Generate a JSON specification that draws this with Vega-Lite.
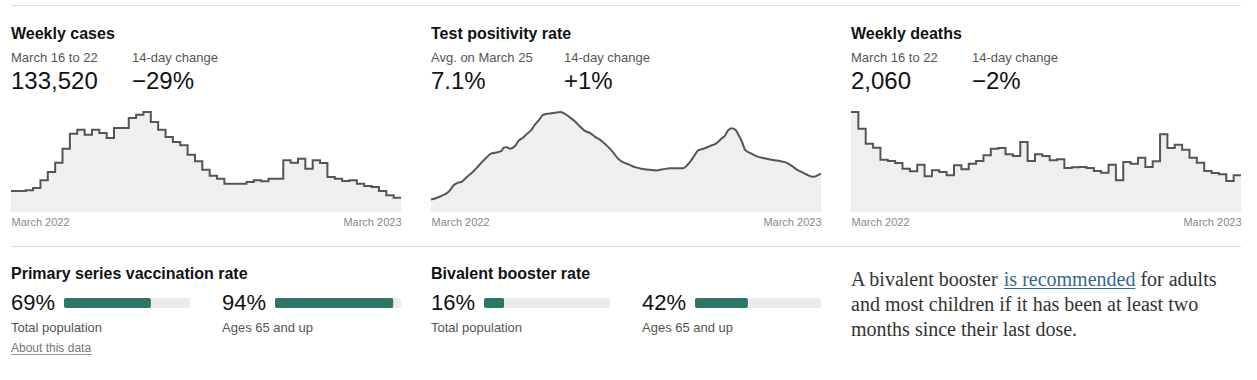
{
  "$schema": "https://vega.github.io/schema/vega-lite/v6.json",
  "padding": {"left": 7, "top": 5, "right": 0, "bottom": 0},
  "background": "white",
  "config": {
    "font": "Liberation Sans",
    "view": {"stroke": null},
    "text": {"baseline": "alphabetic"},
    "axis": {"title": null, "domain": false, "ticks": false, "grid": false, "labelFontSize": 11, "labelColor": "#888", "labelPadding": 4, "labelFlush": true, "format": "%B %Y"}
  },
  "datasets": {
    "headers": [
      {"panel": "cases", "title": "Weekly cases", "periodLabel": "March 16 to 22", "periodValue": "133,520", "changeLabel": "14-day change", "changeValue": "−29%"},
      {"panel": "positivity", "title": "Test positivity rate", "periodLabel": "Avg. on March 25", "periodValue": "7.1%", "changeLabel": "14-day change", "changeValue": "+1%"},
      {"panel": "deaths", "title": "Weekly deaths", "periodLabel": "March 16 to 22", "periodValue": "2,060", "changeLabel": "14-day change", "changeValue": "−2%"}
    ],
    "weekly": [
      {"date": "2022-03-17", "cases": 195600, "deaths": 5618},
      {"date": "2022-03-24", "cases": 195600, "deaths": 4682},
      {"date": "2022-03-31", "cases": 201800, "deaths": 3839},
      {"date": "2022-04-07", "cases": 223600, "deaths": 3614},
      {"date": "2022-04-14", "cases": 295000, "deaths": 2940},
      {"date": "2022-04-21", "cases": 372600, "deaths": 2865},
      {"date": "2022-04-28", "cases": 459500, "deaths": 2753},
      {"date": "2022-05-05", "cases": 590000, "deaths": 2435},
      {"date": "2022-05-12", "cases": 729700, "deaths": 2285},
      {"date": "2022-05-19", "cases": 767000, "deaths": 2659},
      {"date": "2022-05-26", "cases": 720000, "deaths": 2004},
      {"date": "2022-06-02", "cases": 767000, "deaths": 2341},
      {"date": "2022-06-09", "cases": 736000, "deaths": 2247},
      {"date": "2022-06-16", "cases": 689000, "deaths": 2060},
      {"date": "2022-06-23", "cases": 782000, "deaths": 2622},
      {"date": "2022-06-30", "cases": 782000, "deaths": 2397},
      {"date": "2022-07-07", "cases": 875600, "deaths": 2715},
      {"date": "2022-07-14", "cases": 906700, "deaths": 2865},
      {"date": "2022-07-21", "cases": 931500, "deaths": 3184},
      {"date": "2022-07-28", "cases": 838000, "deaths": 3558},
      {"date": "2022-08-04", "cases": 767000, "deaths": 3596},
      {"date": "2022-08-11", "cases": 698600, "deaths": 3240},
      {"date": "2022-08-18", "cases": 652000, "deaths": 3146},
      {"date": "2022-08-25", "cases": 621000, "deaths": 3933},
      {"date": "2022-09-01", "cases": 534000, "deaths": 2865},
      {"date": "2022-09-08", "cases": 472000, "deaths": 3240},
      {"date": "2022-09-15", "cases": 394000, "deaths": 3146},
      {"date": "2022-09-22", "cases": 338000, "deaths": 2903},
      {"date": "2022-09-29", "cases": 310500, "deaths": 2959},
      {"date": "2022-10-06", "cases": 264000, "deaths": 2472},
      {"date": "2022-10-13", "cases": 264000, "deaths": 2509},
      {"date": "2022-10-20", "cases": 264000, "deaths": 2528},
      {"date": "2022-10-27", "cases": 279500, "deaths": 2472},
      {"date": "2022-11-03", "cases": 295000, "deaths": 2303},
      {"date": "2022-11-10", "cases": 285700, "deaths": 2210},
      {"date": "2022-11-17", "cases": 310500, "deaths": 2659},
      {"date": "2022-11-24", "cases": 310500, "deaths": 1779},
      {"date": "2022-12-01", "cases": 481000, "deaths": 2809},
      {"date": "2022-12-08", "cases": 459500, "deaths": 2715},
      {"date": "2022-12-15", "cases": 497000, "deaths": 3053},
      {"date": "2022-12-22", "cases": 403700, "deaths": 2528},
      {"date": "2022-12-29", "cases": 481000, "deaths": 2847},
      {"date": "2023-01-05", "cases": 456400, "deaths": 4364},
      {"date": "2023-01-12", "cases": 326000, "deaths": 3596},
      {"date": "2023-01-19", "cases": 310500, "deaths": 3783},
      {"date": "2023-01-26", "cases": 288800, "deaths": 3502},
      {"date": "2023-02-02", "cases": 295000, "deaths": 3053},
      {"date": "2023-02-09", "cases": 264000, "deaths": 2772},
      {"date": "2023-02-16", "cases": 242000, "deaths": 2303},
      {"date": "2023-02-23", "cases": 233000, "deaths": 2191},
      {"date": "2023-03-02", "cases": 195600, "deaths": 2116},
      {"date": "2023-03-09", "cases": 155000, "deaths": 1742},
      {"date": "2023-03-16", "cases": 133520, "deaths": 2060},
      {"date": "2023-03-23", "cases": 133520, "deaths": 2060}
    ],
    "positivity": [
      {"date": "2022-03-25", "rate": 2.3}, {"date": "2022-03-30", "rate": 2.6}, {"date": "2022-04-04", "rate": 3.0},
      {"date": "2022-04-09", "rate": 3.5}, {"date": "2022-04-12", "rate": 4.1}, {"date": "2022-04-15", "rate": 4.9},
      {"date": "2022-04-19", "rate": 5.4}, {"date": "2022-04-23", "rate": 5.6}, {"date": "2022-04-27", "rate": 6.4},
      {"date": "2022-05-02", "rate": 7.2}, {"date": "2022-05-07", "rate": 8.2}, {"date": "2022-05-11", "rate": 9.1},
      {"date": "2022-05-16", "rate": 10.1}, {"date": "2022-05-20", "rate": 10.8}, {"date": "2022-05-25", "rate": 11.0},
      {"date": "2022-05-30", "rate": 11.3}, {"date": "2022-06-01", "rate": 11.9}, {"date": "2022-06-04", "rate": 12.0},
      {"date": "2022-06-07", "rate": 11.7}, {"date": "2022-06-12", "rate": 12.3}, {"date": "2022-06-15", "rate": 13.2},
      {"date": "2022-06-18", "rate": 13.6}, {"date": "2022-06-23", "rate": 14.5}, {"date": "2022-06-27", "rate": 15.2},
      {"date": "2022-06-30", "rate": 16.1}, {"date": "2022-07-04", "rate": 17.0}, {"date": "2022-07-08", "rate": 18.0},
      {"date": "2022-07-13", "rate": 18.2}, {"date": "2022-07-18", "rate": 18.3}, {"date": "2022-07-24", "rate": 18.5},
      {"date": "2022-07-28", "rate": 18.2}, {"date": "2022-08-02", "rate": 17.5}, {"date": "2022-08-07", "rate": 16.7},
      {"date": "2022-08-11", "rate": 15.9}, {"date": "2022-08-16", "rate": 15.0}, {"date": "2022-08-21", "rate": 14.6},
      {"date": "2022-08-25", "rate": 14.0}, {"date": "2022-09-01", "rate": 13.1}, {"date": "2022-09-07", "rate": 12.0},
      {"date": "2022-09-12", "rate": 10.9}, {"date": "2022-09-15", "rate": 10.1}, {"date": "2022-09-19", "rate": 9.4},
      {"date": "2022-09-26", "rate": 8.8}, {"date": "2022-10-02", "rate": 8.3}, {"date": "2022-10-08", "rate": 8.0},
      {"date": "2022-10-16", "rate": 7.8}, {"date": "2022-10-22", "rate": 7.7}, {"date": "2022-10-28", "rate": 7.9},
      {"date": "2022-11-04", "rate": 8.1}, {"date": "2022-11-10", "rate": 8.1}, {"date": "2022-11-16", "rate": 8.1},
      {"date": "2022-11-19", "rate": 8.5}, {"date": "2022-11-23", "rate": 9.4}, {"date": "2022-11-27", "rate": 10.6},
      {"date": "2022-11-30", "rate": 11.4}, {"date": "2022-12-05", "rate": 11.7}, {"date": "2022-12-11", "rate": 12.2},
      {"date": "2022-12-17", "rate": 12.7}, {"date": "2022-12-22", "rate": 13.6}, {"date": "2022-12-25", "rate": 14.1},
      {"date": "2022-12-28", "rate": 15.1}, {"date": "2022-12-31", "rate": 15.5}, {"date": "2023-01-04", "rate": 15.2},
      {"date": "2023-01-07", "rate": 14.2}, {"date": "2023-01-10", "rate": 13.0}, {"date": "2023-01-13", "rate": 11.5},
      {"date": "2023-01-18", "rate": 10.9}, {"date": "2023-01-24", "rate": 10.3}, {"date": "2023-02-01", "rate": 9.9},
      {"date": "2023-02-08", "rate": 9.6}, {"date": "2023-02-15", "rate": 9.4}, {"date": "2023-02-21", "rate": 9.1},
      {"date": "2023-02-26", "rate": 8.5}, {"date": "2023-03-02", "rate": 7.9}, {"date": "2023-03-09", "rate": 7.2},
      {"date": "2023-03-13", "rate": 6.8}, {"date": "2023-03-18", "rate": 6.5}, {"date": "2023-03-21", "rate": 6.7},
      {"date": "2023-03-25", "rate": 7.1}
    ],
    "vax": [
      {"measure": "Primary series vaccination rate", "group": "Total population", "pct": 0.69, "note": "About this data"},
      {"measure": "Primary series vaccination rate", "group": "Ages 65 and up", "pct": 0.94, "note": ""},
      {"measure": "Bivalent booster rate", "group": "Total population", "pct": 0.16, "note": ""},
      {"measure": "Bivalent booster rate", "group": "Ages 65 and up", "pct": 0.42, "note": ""}
    ],
    "paragraph": [
      {"start": "A bivalent booster", "link": "is recommended", "end": "for adults", "line2": "and most children if it has been at least two", "line3": "months since their last dose."}
    ]
  },
  "columns": 3,
  "spacing": {"row": 86, "column": 30},
  "bounds": "flush",
  "concat": [
    {
      "width": 390, "height": 100,
      "layer": [
        {"data": {"values": [{}]}, "mark": {"type": "rule", "color": "#dcdcdc", "strokeWidth": 1},
         "encoding": {"x": {"value": 0}, "x2": {"value": 420}, "y": {"value": -106.5}}},
        {"data": {"name": "weekly"}, "mark": {"type": "area", "interpolate": "step-after", "color": "#efefef"},
         "encoding": {"x": {"field": "date", "type": "temporal", "scale": {"type": "utc"}, "axis": {"values": [{"year": 2022, "month": 3, "date": 17, "utc": true}, {"year": 2023, "month": 3, "date": 23, "utc": true}]}},
                      "y": {"field": "cases", "type": "quantitative", "scale": {"domain": [0, 931500], "nice": false}, "axis": null}}},
        {"data": {"name": "weekly"}, "mark": {"type": "line", "interpolate": "step-after", "color": "#555", "strokeWidth": 2},
         "encoding": {"x": {"field": "date", "type": "temporal"}, "y": {"field": "cases", "type": "quantitative"}}},
        {"data": {"name": "headers"}, "transform": [{"filter": "datum.panel == 'cases'"}], "mark": {"type": "text", "align": "left", "fontSize": 16, "fontWeight": "bold", "color": "#121212"},
         "encoding": {"x": {"value": 0}, "y": {"value": -73}, "text": {"field": "title", "type": "nominal"}}},
        {"data": {"name": "headers"}, "transform": [{"filter": "datum.panel == 'cases'"}], "mark": {"type": "text", "align": "left", "fontSize": 13, "color": "#555"},
         "encoding": {"x": {"value": 0}, "y": {"value": -50}, "text": {"field": "periodLabel", "type": "nominal"}}},
        {"data": {"name": "headers"}, "transform": [{"filter": "datum.panel == 'cases'"}], "mark": {"type": "text", "align": "left", "fontSize": 24, "color": "#121212"},
         "encoding": {"x": {"value": 0}, "y": {"value": -23}, "text": {"field": "periodValue", "type": "nominal"}}},
        {"data": {"name": "headers"}, "transform": [{"filter": "datum.panel == 'cases'"}], "mark": {"type": "text", "align": "left", "fontSize": 13, "color": "#555"},
         "encoding": {"x": {"value": 121}, "y": {"value": -50}, "text": {"field": "changeLabel", "type": "nominal"}}},
        {"data": {"name": "headers"}, "transform": [{"filter": "datum.panel == 'cases'"}], "mark": {"type": "text", "align": "left", "fontSize": 24, "color": "#121212"},
         "encoding": {"x": {"value": 121}, "y": {"value": -23}, "text": {"field": "changeValue", "type": "nominal"}}}
      ]
    },
    {
      "width": 390, "height": 100,
      "layer": [
        {"data": {"values": [{}]}, "mark": {"type": "rule", "color": "#dcdcdc", "strokeWidth": 1},
         "encoding": {"x": {"value": 0}, "x2": {"value": 420}, "y": {"value": -106.5}}},
        {"data": {"name": "positivity"}, "mark": {"type": "area", "interpolate": "monotone", "color": "#efefef"},
         "encoding": {"x": {"field": "date", "type": "temporal", "scale": {"type": "utc"}, "axis": {"values": [{"year": 2022, "month": 3, "date": 25, "utc": true}, {"year": 2023, "month": 3, "date": 25, "utc": true}]}},
                      "y": {"field": "rate", "type": "quantitative", "scale": {"domain": [0, 18.5], "nice": false}, "axis": null}}},
        {"data": {"name": "positivity"}, "mark": {"type": "line", "interpolate": "monotone", "color": "#555", "strokeWidth": 2},
         "encoding": {"x": {"field": "date", "type": "temporal"}, "y": {"field": "rate", "type": "quantitative"}}},
        {"data": {"name": "headers"}, "transform": [{"filter": "datum.panel == 'positivity'"}], "mark": {"type": "text", "align": "left", "fontSize": 16, "fontWeight": "bold", "color": "#121212"},
         "encoding": {"x": {"value": 0}, "y": {"value": -73}, "text": {"field": "title", "type": "nominal"}}},
        {"data": {"name": "headers"}, "transform": [{"filter": "datum.panel == 'positivity'"}], "mark": {"type": "text", "align": "left", "fontSize": 13, "color": "#555"},
         "encoding": {"x": {"value": 0}, "y": {"value": -50}, "text": {"field": "periodLabel", "type": "nominal"}}},
        {"data": {"name": "headers"}, "transform": [{"filter": "datum.panel == 'positivity'"}], "mark": {"type": "text", "align": "left", "fontSize": 24, "color": "#121212"},
         "encoding": {"x": {"value": 0}, "y": {"value": -23}, "text": {"field": "periodValue", "type": "nominal"}}},
        {"data": {"name": "headers"}, "transform": [{"filter": "datum.panel == 'positivity'"}], "mark": {"type": "text", "align": "left", "fontSize": 13, "color": "#555"},
         "encoding": {"x": {"value": 133}, "y": {"value": -50}, "text": {"field": "changeLabel", "type": "nominal"}}},
        {"data": {"name": "headers"}, "transform": [{"filter": "datum.panel == 'positivity'"}], "mark": {"type": "text", "align": "left", "fontSize": 24, "color": "#121212"},
         "encoding": {"x": {"value": 133}, "y": {"value": -23}, "text": {"field": "changeValue", "type": "nominal"}}}
      ]
    },
    {
      "width": 390, "height": 100,
      "layer": [
        {"data": {"values": [{}]}, "mark": {"type": "rule", "color": "#dcdcdc", "strokeWidth": 1},
         "encoding": {"x": {"value": 0}, "x2": {"value": 390}, "y": {"value": -106.5}}},
        {"data": {"name": "weekly"}, "mark": {"type": "area", "interpolate": "step-after", "color": "#efefef"},
         "encoding": {"x": {"field": "date", "type": "temporal", "scale": {"type": "utc"}, "axis": {"values": [{"year": 2022, "month": 3, "date": 17, "utc": true}, {"year": 2023, "month": 3, "date": 23, "utc": true}]}},
                      "y": {"field": "deaths", "type": "quantitative", "scale": {"domain": [0, 5618], "nice": false}, "axis": null}}},
        {"data": {"name": "weekly"}, "mark": {"type": "line", "interpolate": "step-after", "color": "#555", "strokeWidth": 2},
         "encoding": {"x": {"field": "date", "type": "temporal"}, "y": {"field": "deaths", "type": "quantitative"}}},
        {"data": {"name": "headers"}, "transform": [{"filter": "datum.panel == 'deaths'"}], "mark": {"type": "text", "align": "left", "fontSize": 16, "fontWeight": "bold", "color": "#121212"},
         "encoding": {"x": {"value": 0}, "y": {"value": -73}, "text": {"field": "title", "type": "nominal"}}},
        {"data": {"name": "headers"}, "transform": [{"filter": "datum.panel == 'deaths'"}], "mark": {"type": "text", "align": "left", "fontSize": 13, "color": "#555"},
         "encoding": {"x": {"value": 0}, "y": {"value": -50}, "text": {"field": "periodLabel", "type": "nominal"}}},
        {"data": {"name": "headers"}, "transform": [{"filter": "datum.panel == 'deaths'"}], "mark": {"type": "text", "align": "left", "fontSize": 24, "color": "#121212"},
         "encoding": {"x": {"value": 0}, "y": {"value": -23}, "text": {"field": "periodValue", "type": "nominal"}}},
        {"data": {"name": "headers"}, "transform": [{"filter": "datum.panel == 'deaths'"}], "mark": {"type": "text", "align": "left", "fontSize": 13, "color": "#555"},
         "encoding": {"x": {"value": 121}, "y": {"value": -50}, "text": {"field": "changeLabel", "type": "nominal"}}},
        {"data": {"name": "headers"}, "transform": [{"filter": "datum.panel == 'deaths'"}], "mark": {"type": "text", "align": "left", "fontSize": 24, "color": "#121212"},
         "encoding": {"x": {"value": 121}, "y": {"value": -23}, "text": {"field": "changeValue", "type": "nominal"}}}
      ]
    },
    {
      "width": 390, "height": 10,
      "data": {"name": "vax"},
      "transform": [{"filter": "datum.measure == 'Primary series vaccination rate'"}],
      "layer": [
        {"data": {"values": [{}]}, "mark": {"type": "rule", "color": "#dcdcdc", "strokeWidth": 1},
         "encoding": {"x": {"value": 0}, "x2": {"value": 420}, "y": {"value": -51.5}}},
        {"transform": [{"filter": "datum.group == 'Total population'"}], "mark": {"type": "bar", "color": "#ebebeb", "cornerRadius": 2},
         "encoding": {"x": {"datum": 1, "type": "quantitative", "scale": {"domain": [0, 1], "range": [53, 179]}, "axis": null},
                      "y": {"field": "measure", "type": "nominal", "axis": null, "scale": {"paddingInner": 0, "paddingOuter": 0}}}},
        {"transform": [{"filter": "datum.group == 'Total population'"}], "mark": {"type": "bar", "color": "#2d7566", "cornerRadius": 2},
         "encoding": {"x": {"field": "pct", "type": "quantitative", "scale": {"domain": [0, 1], "range": [53, 179]}, "axis": null},
                      "y": {"field": "measure", "type": "nominal", "axis": null}}},
        {"transform": [{"filter": "datum.group == 'Ages 65 and up'"}], "mark": {"type": "bar", "color": "#ebebeb", "cornerRadius": 2},
         "encoding": {"x": {"datum": 1, "type": "quantitative", "scale": {"domain": [0, 1], "range": [264, 390]}, "axis": null},
                      "y": {"field": "measure", "type": "nominal", "axis": null}}},
        {"transform": [{"filter": "datum.group == 'Ages 65 and up'"}], "mark": {"type": "bar", "color": "#2d7566", "cornerRadius": 2},
         "encoding": {"x": {"field": "pct", "type": "quantitative", "scale": {"domain": [0, 1], "range": [264, 390]}, "axis": null},
                      "y": {"field": "measure", "type": "nominal", "axis": null}}},
        {"transform": [{"filter": "datum.group == 'Total population'"}], "mark": {"type": "text", "align": "left", "fontSize": 16, "fontWeight": "bold", "color": "#121212"},
         "encoding": {"x": {"value": 0}, "y": {"value": -19}, "text": {"field": "measure", "type": "nominal"}}},
        {"transform": [{"filter": "datum.group == 'Total population'"}], "mark": {"type": "text", "align": "left", "fontSize": 22, "color": "#121212"},
         "encoding": {"x": {"value": 0}, "y": {"value": 12}, "text": {"field": "pct", "type": "quantitative", "format": ".0%"}}},
        {"transform": [{"filter": "datum.group == 'Ages 65 and up'"}], "mark": {"type": "text", "align": "left", "fontSize": 22, "color": "#121212"},
         "encoding": {"x": {"value": 211}, "y": {"value": 12}, "text": {"field": "pct", "type": "quantitative", "format": ".0%"}}},
        {"transform": [{"filter": "datum.group == 'Total population'"}], "mark": {"type": "text", "align": "left", "fontSize": 13, "color": "#555"},
         "encoding": {"x": {"value": 0}, "y": {"value": 34}, "text": {"field": "group", "type": "nominal"}}},
        {"transform": [{"filter": "datum.group == 'Ages 65 and up'"}], "mark": {"type": "text", "align": "left", "fontSize": 13, "color": "#555"},
         "encoding": {"x": {"value": 211}, "y": {"value": 34}, "text": {"field": "group", "type": "nominal"}}},
        {"transform": [{"filter": "datum.note != ''"}], "mark": {"type": "text", "align": "left", "fontSize": 12, "color": "#777"},
         "encoding": {"x": {"value": 0}, "y": {"value": 54}, "text": {"field": "note", "type": "nominal"}}},
        {"transform": [{"filter": "datum.note != ''"}], "mark": {"type": "rule", "color": "#999", "strokeWidth": 1},
         "encoding": {"x": {"value": 0}, "x2": {"value": 81}, "y": {"value": 56.5}}}
      ],
      "resolve": {"scale": {"x": "independent"}}
    },
    {
      "width": 390, "height": 10,
      "data": {"name": "vax"},
      "transform": [{"filter": "datum.measure == 'Bivalent booster rate'"}],
      "layer": [
        {"data": {"values": [{}]}, "mark": {"type": "rule", "color": "#dcdcdc", "strokeWidth": 1},
         "encoding": {"x": {"value": 0}, "x2": {"value": 420}, "y": {"value": -51.5}}},
        {"transform": [{"filter": "datum.group == 'Total population'"}], "mark": {"type": "bar", "color": "#ebebeb", "cornerRadius": 2},
         "encoding": {"x": {"datum": 1, "type": "quantitative", "scale": {"domain": [0, 1], "range": [53, 179]}, "axis": null},
                      "y": {"field": "measure", "type": "nominal", "axis": null, "scale": {"paddingInner": 0, "paddingOuter": 0}}}},
        {"transform": [{"filter": "datum.group == 'Total population'"}], "mark": {"type": "bar", "color": "#2d7566", "cornerRadius": 2},
         "encoding": {"x": {"field": "pct", "type": "quantitative", "scale": {"domain": [0, 1], "range": [53, 179]}, "axis": null},
                      "y": {"field": "measure", "type": "nominal", "axis": null}}},
        {"transform": [{"filter": "datum.group == 'Ages 65 and up'"}], "mark": {"type": "bar", "color": "#ebebeb", "cornerRadius": 2},
         "encoding": {"x": {"datum": 1, "type": "quantitative", "scale": {"domain": [0, 1], "range": [264, 390]}, "axis": null},
                      "y": {"field": "measure", "type": "nominal", "axis": null}}},
        {"transform": [{"filter": "datum.group == 'Ages 65 and up'"}], "mark": {"type": "bar", "color": "#2d7566", "cornerRadius": 2},
         "encoding": {"x": {"field": "pct", "type": "quantitative", "scale": {"domain": [0, 1], "range": [264, 390]}, "axis": null},
                      "y": {"field": "measure", "type": "nominal", "axis": null}}},
        {"transform": [{"filter": "datum.group == 'Total population'"}], "mark": {"type": "text", "align": "left", "fontSize": 16, "fontWeight": "bold", "color": "#121212"},
         "encoding": {"x": {"value": 0}, "y": {"value": -19}, "text": {"field": "measure", "type": "nominal"}}},
        {"transform": [{"filter": "datum.group == 'Total population'"}], "mark": {"type": "text", "align": "left", "fontSize": 22, "color": "#121212"},
         "encoding": {"x": {"value": 0}, "y": {"value": 12}, "text": {"field": "pct", "type": "quantitative", "format": ".0%"}}},
        {"transform": [{"filter": "datum.group == 'Ages 65 and up'"}], "mark": {"type": "text", "align": "left", "fontSize": 22, "color": "#121212"},
         "encoding": {"x": {"value": 211}, "y": {"value": 12}, "text": {"field": "pct", "type": "quantitative", "format": ".0%"}}},
        {"transform": [{"filter": "datum.group == 'Total population'"}], "mark": {"type": "text", "align": "left", "fontSize": 13, "color": "#555"},
         "encoding": {"x": {"value": 0}, "y": {"value": 34}, "text": {"field": "group", "type": "nominal"}}},
        {"transform": [{"filter": "datum.group == 'Ages 65 and up'"}], "mark": {"type": "text", "align": "left", "fontSize": 13, "color": "#555"},
         "encoding": {"x": {"value": 211}, "y": {"value": 34}, "text": {"field": "group", "type": "nominal"}}}
      ],
      "resolve": {"scale": {"x": "independent"}}
    },
    {
      "data": {"name": "paragraph"},
      "width": 390, "height": 10,
      "layer": [
        {"mark": {"type": "rule", "color": "#dcdcdc", "strokeWidth": 1},
         "encoding": {"x": {"value": 0}, "x2": {"value": 390}, "y": {"value": -51.5}}},
        {"mark": {"type": "text", "align": "left", "font": "Liberation Serif", "fontSize": 20, "color": "#333"},
         "encoding": {"x": {"value": 0}, "y": {"value": -12}, "text": {"field": "start", "type": "nominal"}}},
        {"mark": {"type": "text", "align": "left", "font": "Liberation Serif", "fontSize": 20, "color": "#326891"},
         "encoding": {"x": {"value": 152.8}, "y": {"value": -12}, "text": {"field": "link", "type": "nominal"}}},
        {"mark": {"type": "rule", "color": "#326891", "strokeWidth": 1},
         "encoding": {"x": {"value": 152.8}, "x2": {"value": 284.4}, "y": {"value": -9.5}}},
        {"mark": {"type": "text", "align": "left", "font": "Liberation Serif", "fontSize": 20, "color": "#333"},
         "encoding": {"x": {"value": 289.4}, "y": {"value": -12}, "text": {"field": "end", "type": "nominal"}}},
        {"mark": {"type": "text", "align": "left", "font": "Liberation Serif", "fontSize": 20, "color": "#333"},
         "encoding": {"x": {"value": 0}, "y": {"value": 13}, "text": {"field": "line2", "type": "nominal"}}},
        {"mark": {"type": "text", "align": "left", "font": "Liberation Serif", "fontSize": 20, "color": "#333"},
         "encoding": {"x": {"value": 0}, "y": {"value": 38}, "text": {"field": "line3", "type": "nominal"}}}
      ]
    }
  ]
}
